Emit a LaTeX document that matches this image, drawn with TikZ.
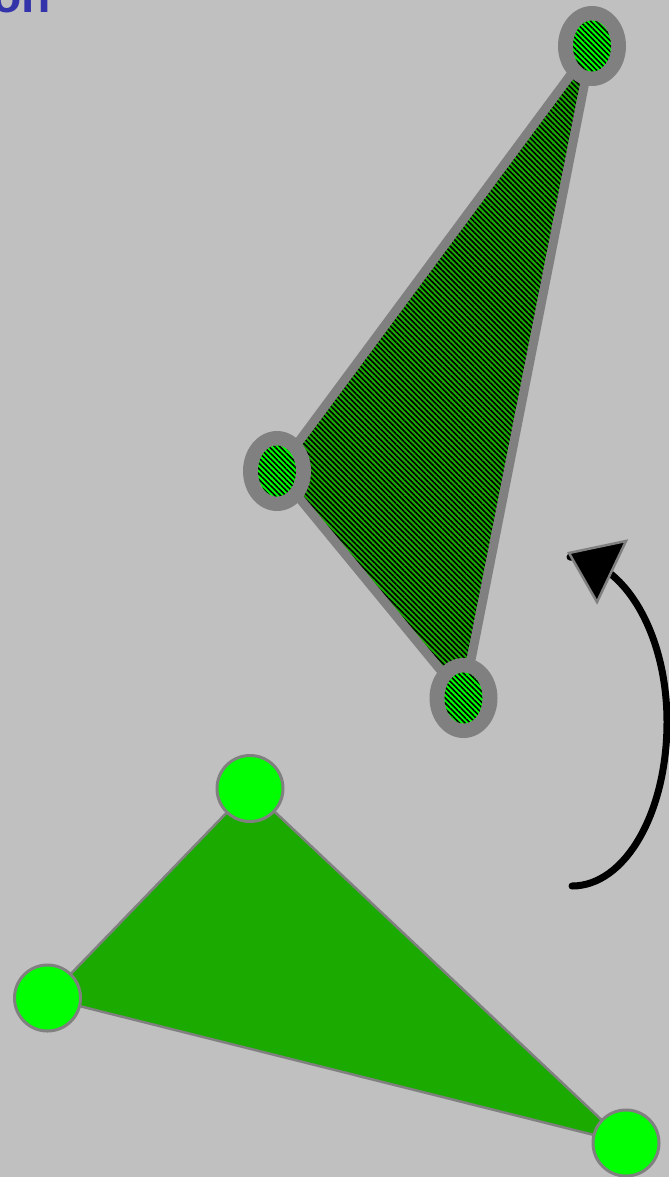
\documentclass[tikz,border=0pt]{standalone}
\usepackage{fontspec}
\newfontfamily\labelfont{Liberation Sans}
\usetikzlibrary{patterns.meta}
\definecolor{bg}{HTML}{C0C0C0}
\definecolor{edgegray}{HTML}{808080}
\definecolor{darkgreen}{HTML}{1AAA00}
\definecolor{brightgreen}{HTML}{00FF00}
\definecolor{titleblue}{HTML}{3333AA}
\tikzset{
  hatch/.style={pattern={Lines[angle=-45,distance=3.8pt,line width=1.6pt]}, pattern color=black},
  ringouter/.style={fill=edgegray},
  ringinner/.style={preaction={fill=brightgreen}, hatch},
  vertexdot/.style={circle, minimum size=66pt, inner sep=0pt, fill=brightgreen, draw=edgegray, line width=3pt},
}
\begin{document}
\begin{tikzpicture}[x=1pt,y=1pt,yscale=-1]
\fill[bg] (0,0) rectangle (669,1177);
\useasboundingbox (0,0) rectangle (669,1177);

% title fragment
\node[anchor=base east, text=titleblue, font=\labelfont\bfseries\fontsize{48}{56}\selectfont, inner sep=0pt] (title) at (51,13) {on};

% top (hatched) triangle
\coordinate (A) at (592,46);
\coordinate (B) at (277,471);
\coordinate (C) at (463.5,698);
\path[preaction={fill=darkgreen}, hatch, draw=edgegray, line width=9pt, line join=round] (A) -- (B) -- (C) -- cycle;
\foreach \p in {A,B,C}{
  \fill[ringouter] (\p) ellipse [x radius=34pt, y radius=40pt];
  \path[ringinner] (\p) ellipse [x radius=19pt, y radius=25.5pt];
}

% bottom (solid) triangle
\coordinate (D) at (250,788.5);
\coordinate (E) at (47.5,998);
\coordinate (F) at (626,1143);
\draw[fill=darkgreen, draw=edgegray, line width=2.5pt, line join=round] (D) -- (E) -- (F) -- cycle;
\node[vertexdot] (d) at (D) {};
\node[vertexdot] (e) at (E) {};
\node[vertexdot] (f) at (F) {};

% rotation arrow
\coordinate (s) at (572,886);
\coordinate (m) at (667,722);
\coordinate (t) at (570,557);
\draw[line width=7pt, line cap=round] (s) .. controls (625,886) and (667,813) .. (m)
  .. controls (667,632) and (623,560) .. (t);
\coordinate (tip) at (569,553);
\coordinate (b1) at (626,541);
\coordinate (b2) at (597,602);
\draw[fill=black, draw=edgegray, line width=2.5pt, line join=miter] (tip) -- (b1) -- (b2) -- cycle;
\end{tikzpicture}
\end{document}
